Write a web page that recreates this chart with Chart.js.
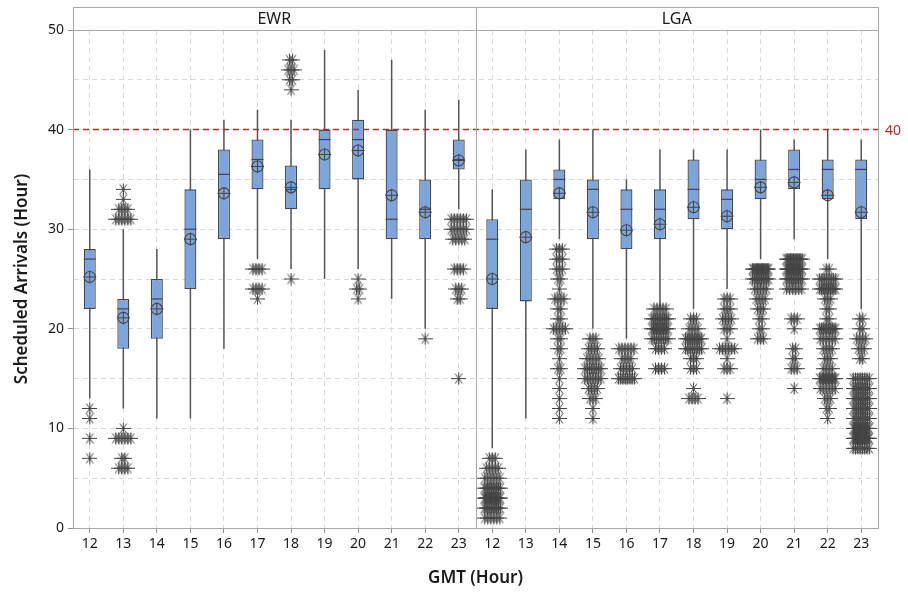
<!DOCTYPE html>
<html lang="en">
<head>
<meta charset="UTF-8">
<title>Scheduled Arrivals | EWR x LGA</title>
<script src="https://cdn.jsdelivr.net/npm/chart.js"></script>
<style>
    html, body { margin: 0; padding: 0; background: #fff; }
</style>
</head>
<body>
<canvas id="grafico" width="908" height="592"></canvas>

<script>
    // horas (GMT) e paineis
    const horas = [12, 13, 14, 15, 16, 17, 18, 19, 20, 21, 22, 23];
    const paineis = ['EWR', 'LGA'];
    const linhaRef = 40;

    // EWR - resumo das caixas
    const ewrMin     = [13, 12, 11, 11, 18, 27, 26, 25, 26, 23, 20, 32];
    const ewrQ1      = [22, 18, 19, 24, 29, 34, 32, 34, 35, 29, 29, 36];
    const ewrMediana = [27, 22, 23, 30, 35.5, 37, 34, 39, 39, 31, 32, 37];
    const ewrQ3      = [28, 23, 25, 34, 38, 39, 36.4, 40, 41, 40, 35, 39];
    const ewrMax     = [36, 30, 28, 40, 41, 42, 41, 48, 44, 47, 42, 43];
    const ewrMedia   = [25.2, 21.1, 22, 29, 33.6, 36.3, 34.2, 37.5, 37.9, 33.4, 31.7, 36.9];

    // LGA - resumo das caixas
    const lgaMin     = [8, 11, 29, 20, 19, 22, 22, 24, 27, 29, 27, 22];
    const lgaQ1      = [22, 22.75, 33, 29, 28, 29, 31, 30, 33, 34, 33, 31];
    const lgaMediana = [29, 32, 35, 34, 32, 32, 34, 33, 35, 36, 36, 36];
    const lgaQ3      = [31, 35, 36, 35, 34, 34, 37, 34, 37, 38, 37, 37];
    const lgaMax     = [34, 38, 39, 40, 35, 38, 38, 38, 40, 39, 40, 39];
    const lgaMedia   = [25, 29.2, 33.6, 31.7, 29.9, 30.5, 32.2, 31.3, 34.2, 34.7, 33.4, 31.7];

    // valores atipicos: [valor, quantidade]
    const ewrAtipicos = [
        [[12, 1], [11, 1], [9, 1], [7, 1]],
        [[34, 1], [33, 1], [32, 4], [31, 6], [10, 1], [9, 6], [7, 2], [6, 4]],
        [], [], [],
        [[26, 4], [24, 4], [23, 1]],
        [[47, 2], [46, 3], [45, 2], [44, 1], [25, 1]],
        [],
        [[25, 1], [24, 2], [23, 1]],
        [],
        [[19, 1]],
        [[31, 6], [30, 6], [29, 5], [26, 4], [24, 3], [23, 2], [15, 1]]
    ];
    const lgaAtipicos = [
        [[7, 3], [6, 5], [5, 6], [4, 10], [3, 14], [2, 10], [1, 6]],
        [],
        [[28, 3], [27, 3], [26, 3], [25, 2], [24, 1], [23, 4], [22, 2], [21, 2], [20, 5], [19, 2], [18, 2], [17, 1], [16, 2], [15, 1], [14, 1], [13, 1], [12, 1], [11, 1]],
        [[19, 3], [18, 4], [17, 5], [16, 8], [15, 7], [14, 4], [13, 3], [12, 1], [11, 1]],
        [[18, 6], [17, 4], [16, 5], [15, 8]],
        [[22, 5], [21, 10], [20, 12], [19, 8], [18, 4], [16, 4]],
        [[21, 3], [20, 4], [19, 10], [18, 8], [17, 3], [16, 3], [14, 1], [13, 4]],
        [[23, 3], [22, 3], [21, 4], [20, 3], [19, 1], [18, 6], [17, 1], [16, 3], [13, 1]],
        [[26, 14], [25, 10], [24, 5], [23, 4], [22, 3], [21, 2], [20, 2], [19, 3]],
        [[27, 12], [26, 14], [25, 10], [24, 6], [21, 3], [20, 1], [18, 2], [17, 2], [16, 3], [14, 1]],
        [[26, 2], [25, 8], [24, 10], [23, 3], [22, 2], [21, 2], [20, 10], [19, 6], [18, 4], [17, 3], [16, 4], [15, 12], [14, 6], [13, 3], [12, 2], [11, 1]],
        [[21, 2], [20, 2], [19, 4], [18, 3], [17, 2], [15, 8], [14, 10], [13, 10], [12, 10], [11, 10], [10, 14], [9, 16], [8, 8]]
    ];

    // junta os dois paineis lado a lado (posicao 0..23 no eixo x)
    const rotulos = horas.concat(horas);
    const juntar = (a, b) => a.concat(b).map((v, i) => ({ x: i, y: v }));
    const faixa = (lo, hi) => lo.map((v, i) => [v, hi[i]]);

    const bigodes = juntar(faixa(ewrMin, ewrMax), faixa(lgaMin, lgaMax));
    const caixas = juntar(faixa(ewrQ1, ewrQ3), faixa(lgaQ1, lgaQ3));
    const medianas = juntar(ewrMediana, lgaMediana);
    const medias = juntar(ewrMedia, lgaMedia);

    // repetidos ficam lado a lado, como no minitab
    const atipicos = [];
    ewrAtipicos.concat(lgaAtipicos).forEach((lista, i) => {
        lista.forEach(([valor, n]) => {
            const passo = n > 1 ? Math.min(0.09, 0.48 / (n - 1)) : 0;
            for (let k = 0; k < n; k++) {
                atipicos.push({ x: i + (k - (n - 1) / 2) * passo, y: valor });
            }
        });
    });

    // simbolo de asterisco
    function criarAsterisco() {
        const c = document.createElement('canvas');
        c.width = 15; c.height = 13;
        const g = c.getContext('2d');
        g.strokeStyle = '#444';
        g.lineWidth = 1;
        g.beginPath();
        g.moveTo(0, 6.5); g.lineTo(15, 6.5);
        g.moveTo(7.5, 0.5); g.lineTo(7.5, 12.5);
        g.moveTo(4, 1.5); g.lineTo(11, 11.5);
        g.moveTo(11, 1.5); g.lineTo(4, 11.5);
        g.stroke();
        return c;
    }

    const fonte = "'Noto Sans', 'Open Sans', sans-serif";
    const corGrade = '#d9d9d9';
    const corEixo = '#8f8f8f';

    // moldura, faixa dos paineis e rotulo da linha de referencia
    const moldura = {
        id: 'moldura',
        afterDraw(chart) {
            const { ctx, chartArea: a, scales: { x, y } } = chart;
            const topo = a.top - 23;
            ctx.save();
            ctx.strokeStyle = '#a8a8a8';
            ctx.lineWidth = 1;
            ctx.strokeRect(Math.round(a.left) + 0.5, topo + 0.5, Math.round(a.right - a.left), Math.round(a.bottom - topo));
            ctx.beginPath();
            ctx.moveTo(a.left, Math.round(a.top) + 0.5);
            ctx.lineTo(a.right, Math.round(a.top) + 0.5);
            const xd = Math.round(x.getPixelForValue(11.5)) + 0.5;
            ctx.moveTo(xd, topo);
            ctx.lineTo(xd, a.bottom);
            ctx.stroke();

            ctx.fillStyle = '#1a1a1a';
            ctx.font = '16px ' + fonte;
            ctx.textAlign = 'center';
            ctx.textBaseline = 'middle';
            paineis.forEach((p, i) => ctx.fillText(p, x.getPixelForValue(i * 12 + 5.5), topo + 12));

            ctx.fillStyle = '#b22b2b';
            ctx.font = '14px ' + fonte;
            ctx.textAlign = 'left';
            ctx.fillText(String(linhaRef), a.right + 7, y.getPixelForValue(linhaRef) + 1);
            ctx.restore();
        }
    };

    const ctx = document.getElementById('grafico').getContext('2d');

    new Chart(ctx, {
        type: 'bar',
        data: {
            datasets: [
                {
                    label: 'bigode',
                    data: bigodes,
                    backgroundColor: '#555',
                    maxBarThickness: 1.5,
                    grouped: false,
                    order: 6
                },
                {
                    label: 'caixa',
                    data: caixas,
                    backgroundColor: '#7ba5db',
                    borderColor: '#474747',
                    borderWidth: 1.3,
                    borderSkipped: false,
                    maxBarThickness: 12,
                    grouped: false,
                    order: 5
                },
                {
                    type: 'line',
                    label: 'mediana',
                    data: medianas,
                    showLine: false,
                    pointStyle: 'line',
                    pointRadius: 6,
                    pointBorderColor: '#444',
                    pointBorderWidth: 1.2,
                    order: 4
                },
                {
                    type: 'line',
                    label: 'media',
                    data: medias,
                    showLine: false,
                    pointStyle: 'circle',
                    pointRadius: 5.5,
                    pointBackgroundColor: 'transparent',
                    pointBorderColor: '#444',
                    pointBorderWidth: 1.1,
                    order: 3
                },
                {
                    type: 'line',
                    label: 'media cruz',
                    data: medias,
                    showLine: false,
                    pointStyle: 'cross',
                    pointRadius: 6.5,
                    pointBorderColor: '#444',
                    pointBorderWidth: 1,
                    order: 2
                },
                {
                    type: 'line',
                    label: 'atipicos',
                    data: atipicos,
                    showLine: false,
                    pointStyle: criarAsterisco(),
                    order: 1
                },
                {
                    type: 'line',
                    label: 'referencia',
                    data: [{ x: -0.5, y: linhaRef }, { x: 23.5, y: linhaRef }],
                    borderColor: '#c0282d',
                    borderWidth: 1.5,
                    borderDash: [6, 4],
                    pointRadius: 0,
                    order: 0
                }
            ]
        },
        options: {
            responsive: false,
            animation: false,
            events: [],
            layout: { padding: { top: 30, right: 30, left: 0, bottom: 0 } },
            plugins: {
                legend: { display: false },
                tooltip: { enabled: false }
            },
            scales: {
                x: {
                    type: 'linear',
                    min: -0.5,
                    max: 23.5,
                    offset: false,
                    afterBuildTicks: (s) => { s.ticks = rotulos.map((h, i) => ({ value: i })); },
                    afterFit: (s) => { s.height = 64; },
                    grid: {
                        offset: false,
                        color: corGrade,
                        tickColor: corEixo,
                        tickLength: 5
                    },
                    border: { color: corEixo, dash: [5, 4] },
                    ticks: {
                        autoSkip: false,
                        maxRotation: 0,
                        padding: 3,
                        color: '#1a1a1a',
                        font: { family: fonte, size: 14 },
                        callback: (v, i) => String(rotulos[i])
                    },
                    title: {
                        display: true,
                        text: 'GMT (Hour)',
                        color: '#1a1a1a',
                        font: { family: fonte, size: 17, weight: '600' },
                        padding: { top: 4, bottom: 4 }
                    }
                },
                y: {
                    min: 0,
                    max: 50,
                    afterFit: (s) => { s.width = 73; },
                    grid: {
                        color: (c) => (c.tick.value === 0 || c.tick.value === 50) ? 'transparent' : corGrade,
                        tickColor: (c) => c.tick.value % 10 === 0 ? corEixo : 'transparent',
                        tickLength: 5
                    },
                    border: { color: corEixo, dash: [5, 4] },
                    ticks: {
                        stepSize: 5,
                        padding: 4,
                        color: '#1a1a1a',
                        font: { family: fonte, size: 14 },
                        callback: (v) => v % 10 === 0 ? v : ''
                    },
                    title: {
                        display: true,
                        text: 'Scheduled Arrivals (Hour)',
                        color: '#1a1a1a',
                        font: { family: fonte, size: 17, weight: '600' },
                        padding: { top: 12, bottom: 0 }
                    }
                }
            }
        },
        plugins: [moldura]
    });
</script>
</body>
</html>
